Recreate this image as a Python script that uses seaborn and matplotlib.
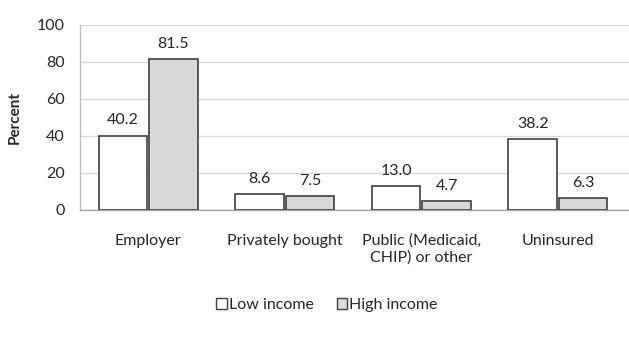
import matplotlib
matplotlib.use("Agg")
import matplotlib.pyplot as plt
import seaborn as sns
import pandas as pd
from matplotlib.patches import Patch

categories = ["Employer", "Privately bought", "Public (Medicaid,\nCHIP) or other", "Uninsured"]
low_income = [40.2, 8.6, 13.0, 38.2]
high_income = [81.5, 7.5, 4.7, 6.3]
series = ["Low income", "High income"]
y_ticks = [0, 20, 40, 60, 80, 100]

df = pd.DataFrame({
    "category": categories * 2,
    "group": [series[0]] * 4 + [series[1]] * 4,
    "value": low_income + high_income,
})

sns.set_theme(style="white")
plt.rcParams["font.family"] = ["Lato", "DejaVu Sans"]

fill = {"Low income": "#ffffff", "High income": "#d9d9d9"}
edge = "#404040"
text_col = "#262626"
fs = 11.5

fig = plt.figure(figsize=(6.29, 3.37), dpi=100)
ax = fig.add_axes([0.127, 0.377, 0.873, 0.549])

sns.barplot(data=df, x="category", y="value", hue="group", hue_order=series,
            palette=fill, width=0.74, gap=0.04, edgecolor=edge, linewidth=1.2,
            legend=False, ax=ax, zorder=3)

for cont in ax.containers:
    ax.bar_label(cont, fmt="%.1f", padding=6, fontsize=fs, color=text_col)

ax.set_ylim(0, 100)
ax.set_xlim(-0.5, 3.52)
ax.set_yticks(y_ticks)
ax.yaxis.grid(True, color="#d9d9d9", linewidth=1.0, zorder=0)
ax.set_axisbelow(True)
for s in ["top", "right"]:
    ax.spines[s].set_visible(False)
ax.spines["left"].set_color("#bfbfbf")
ax.spines["bottom"].set_color("#a6a6a6")
ax.spines["left"].set_linewidth(1.0)
ax.spines["bottom"].set_linewidth(1.0)
ax.tick_params(axis="both", length=0, labelsize=fs, labelcolor=text_col)
ax.tick_params(axis="y", pad=11)
ax.tick_params(axis="x", pad=17)
ax.set_xlabel("")
ax.set_ylabel("Percent", fontsize=fs - 0.5, fontweight="bold", color=text_col, labelpad=11)

handles = [Patch(facecolor=fill[s], edgecolor=edge, linewidth=1.0) for s in series]
fig.legend(handles, series, loc="center", bbox_to_anchor=(0.52, 0.095), ncol=2,
           frameon=False, fontsize=fs, handlelength=0.65, handleheight=0.65,
           handletextpad=0.15, columnspacing=1.4, labelcolor=text_col)

fig.savefig("out.png", dpi=100)
